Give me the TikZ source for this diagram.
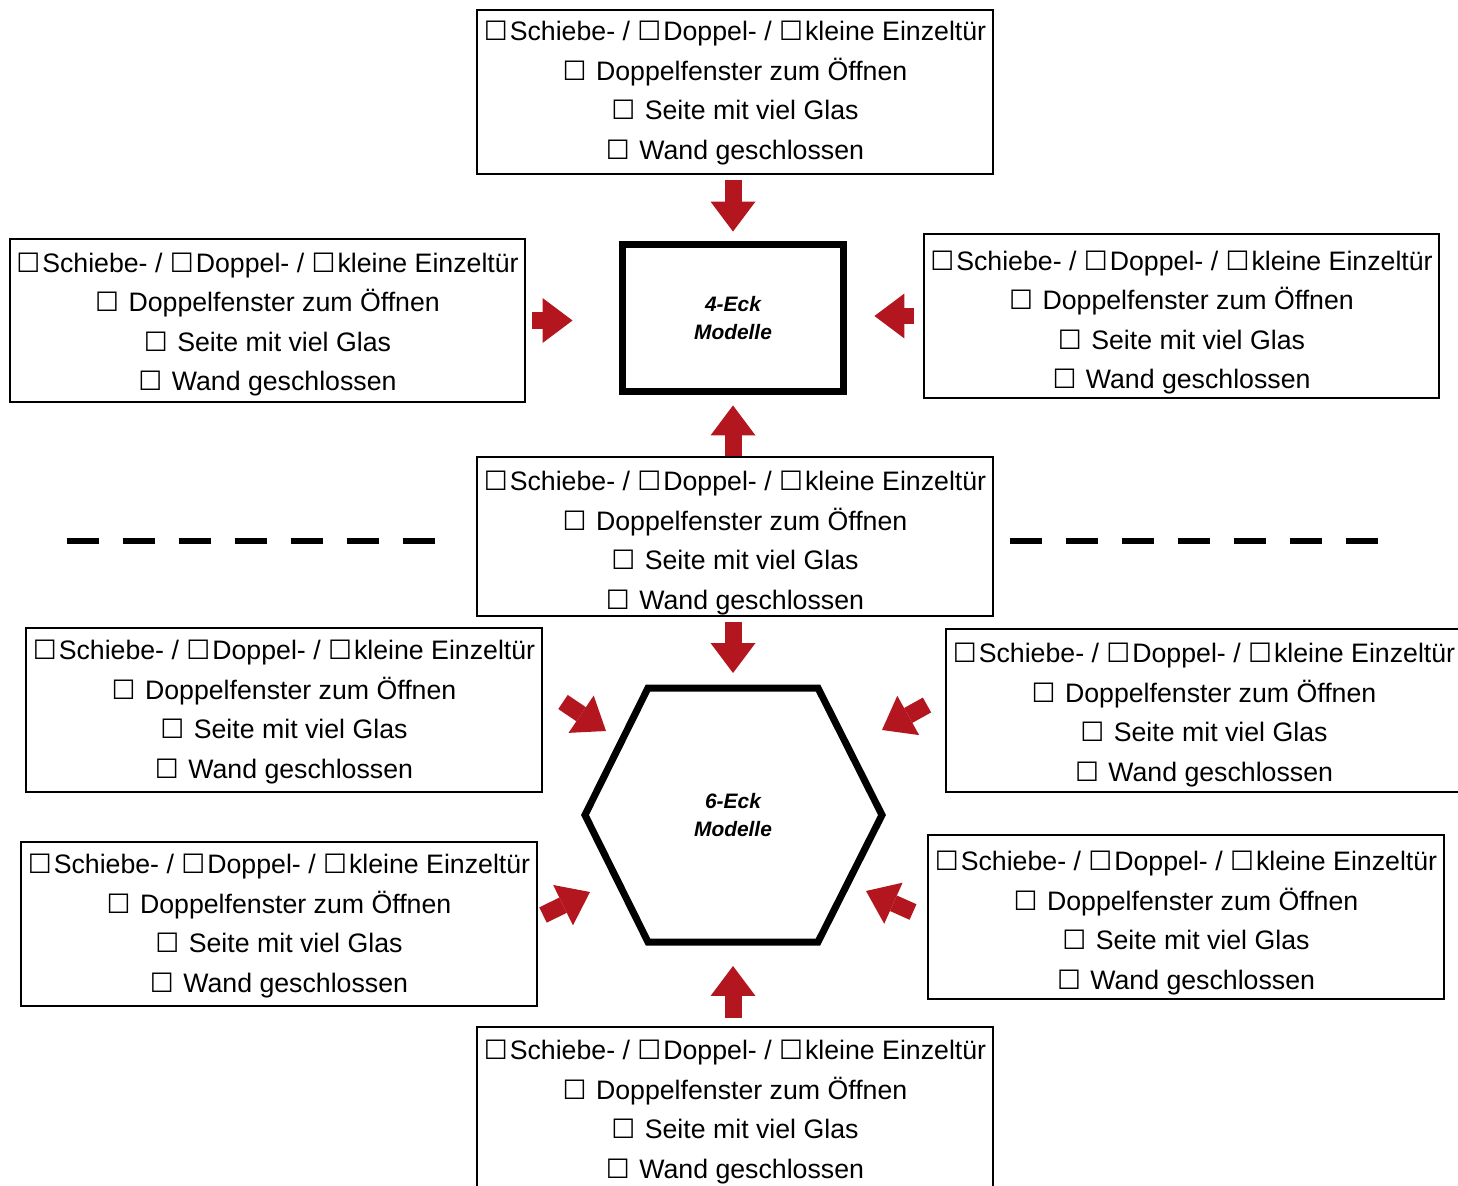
\documentclass[tikz,border=0pt]{standalone}
\usepackage{fontspec}
\setmainfont{Liberation Sans}
\newfontfamily\boxglyphfont{DejaVu Sans}
\usetikzlibrary{arrows.meta,shapes.geometric}
\definecolor{arrowred}{RGB}{180,22,32}
\newcommand{\chk}{{\boxglyphfont\char"2610}\kern0.04cm}
\newcommand{\optlines}{\chk Schiebe- / \chk Doppel- / \chk kleine Einzeltür\\
  \chk{} Doppelfenster zum Öffnen\\
  \chk{} Seite mit viel Glas\\
  \chk{} Wand geschlossen}
\begin{document}
\begin{tikzpicture}[x=0.02cm,y=-0.02cm,
  optbox/.style={draw,line width=0.04cm,minimum width=10.32cm,minimum height=3.28cm,inner sep=0pt,align=center,text height=2.8cm,font=\fontsize{15.2}{22.5}\selectfont},
  modeltext/.style={inner sep=0pt,align=center,font=\fontsize{11.9}{15.9}\selectfont\bfseries\itshape},
  modelline/.style={line width=0.14cm,line join=miter},
  bigarrow/.style={draw=arrowred,line width=0.34cm,-{Triangle[width=0.9cm,length=0.6cm,line width=0pt]}},
  sepline/.style={line width=0.12cm,dash pattern=on 0.64cm off 0.48cm}]
\useasboundingbox (0,0) rectangle (1458,1186);
% Models
\node(sq)[modeltext,draw,modelline,minimum width=4.44cm,minimum height=2.96cm] at (733,318) {4-Eck\\Modelle};
\node(hex)[modeltext] at (733,815) {6-Eck\\Modelle};
\draw[modelline] (648,688) -- (818,688) -- (882,815) -- (818,942) -- (648,942) -- (585,815) -- cycle;
\coordinate (hextop) at (733,685);
\coordinate (hexbot) at (733,945);
% Boxes round the 4-Eck
\node(top)[optbox] at (735,92) {\optlines};
\node(l1)[optbox,text height=2.92cm] at (267.5,320.5) {\optlines};
\node(r1)[optbox,text height=3.02cm] at (1181.5,316) {\optlines};
% Box in the middle
\node(mid)[optbox,minimum height=3.18cm,text height=3.02cm] at (735,536.5) {\optlines};
% Boxes round the 6-Eck
\node(l2)[optbox,text height=2.84cm] at (284,710) {\optlines};
\node(r2)[optbox,text height=2.94cm] at (1204,710.5) {\optlines};
\node(l3)[optbox,text height=2.84cm] at (279,924) {\optlines};
\node(r3)[optbox,text height=3cm] at (1186,917) {\optlines};
\node(bot)[optbox,text height=2.88cm] at (735,1109) {\optlines};
% Separator
\draw[sepline] (67,541) -- (436,541);
\draw[sepline] (1010,541) -- (1378,541);
% Arrows 4-Eck
\draw[bigarrow,shorten <=0.1cm,shorten >=0.18cm] (top.south -| sq.north) -- (sq.north);
\draw[bigarrow,shorten <=0.12cm,shorten >=0.92cm] (l1.east) -- (l1.east -| sq.west);
\draw[bigarrow,shorten <=0.18cm,shorten >=0.54cm] (r1.west) -- (r1.west -| sq.east);
\draw[bigarrow,shorten >=0.2cm] (mid.north -| sq.south) -- (sq.south);
% Arrows 6-Eck
\draw[bigarrow,shorten <=0.1cm,shorten >=0.24cm] (mid.south -| hextop) -- (hextop);
\draw[bigarrow,shorten <=0.16cm,shorten >=0.42cm] (bot.north -| hexbot) -- (hexbot);
\coordinate (l2a) at (563,702);
\coordinate (l2b) at (606,731);
\coordinate (r2a) at (927,705);
\coordinate (r2b) at (882,730);
\coordinate (l3a) at (543,915);
\coordinate (l3b) at (590,892);
\coordinate (r3a) at (913,912);
\coordinate (r3b) at (866,891);
\draw[bigarrow] (l2a) -- (l2b);
\draw[bigarrow] (r2a) -- (r2b);
\draw[bigarrow] (l3a) -- (l3b);
\draw[bigarrow] (r3a) -- (r3b);
\end{tikzpicture}
\end{document}
